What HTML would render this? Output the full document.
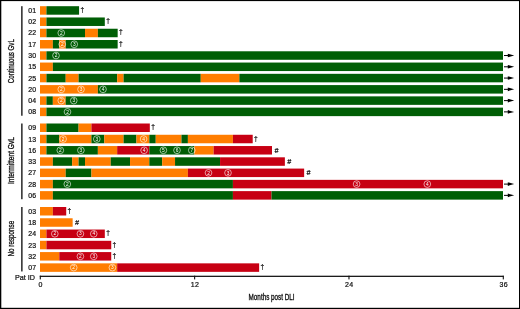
<!DOCTYPE html>
<html lang="en"><head><meta charset="utf-8"><title>DLI response chart</title>
<style>html,body{margin:0;padding:0;background:#fff}svg{display:block}text{font-family:"Liberation Sans",sans-serif;fill:#111;stroke:#111;stroke-width:0.22px}</style></head><body>
<svg width="520" height="309" viewBox="0 0 520 309">
<rect x="0" y="0" width="520" height="309" fill="#fff"/>
<rect x="0" y="0" width="520" height="1.1" fill="#000"/>
<rect x="0" y="0" width="1.3" height="309" fill="#000"/>
<rect x="519" y="0" width="1" height="309" fill="#000"/>
<rect x="0" y="307.8" width="520" height="1.2" fill="#000"/>
<rect x="21.2" y="6.20" width="1.35" height="109.53" fill="#111"/>
<text transform="translate(13.6 83.16) rotate(-90)" font-size="8.2" textLength="44" lengthAdjust="spacingAndGlyphs" style="stroke-width:0.32px">Continuous GvL</text>
<text x="28.3" y="12.95" font-size="7" textLength="7.7" lengthAdjust="spacingAndGlyphs">01</text>
<rect x="40.00" y="6.20" width="6.43" height="8.5" fill="#ff7d00"/>
<rect x="46.43" y="6.20" width="32.65" height="8.5" fill="#005e05"/>
<text x="82.28" y="11.95" font-size="6.6" text-anchor="middle">†</text>
<text x="28.3" y="24.22" font-size="7" textLength="7.7" lengthAdjust="spacingAndGlyphs">02</text>
<rect x="40.00" y="17.47" width="6.43" height="8.5" fill="#ff7d00"/>
<rect x="46.43" y="17.47" width="58.38" height="8.5" fill="#005e05"/>
<text x="108.01" y="23.22" font-size="6.6" text-anchor="middle">†</text>
<text x="28.3" y="35.49" font-size="7" textLength="7.7" lengthAdjust="spacingAndGlyphs">22</text>
<rect x="40.00" y="28.74" width="6.43" height="8.5" fill="#ff7d00"/>
<rect x="46.43" y="28.74" width="38.58" height="8.5" fill="#005e05"/>
<rect x="85.01" y="28.74" width="12.86" height="8.5" fill="#ff7d00"/>
<rect x="97.88" y="28.74" width="19.79" height="8.5" fill="#005e05"/>
<text x="120.87" y="34.49" font-size="6.6" text-anchor="middle">†</text>
<circle cx="61.25" cy="32.99" r="3.35" fill="none" stroke="#fff" stroke-width="0.6"/>
<text x="61.25" y="34.69" font-size="4.8" text-anchor="middle" style="fill:#fff;stroke:none">2</text>
<text x="28.3" y="46.76" font-size="7" textLength="7.7" lengthAdjust="spacingAndGlyphs">17</text>
<rect x="40.00" y="40.01" width="12.86" height="8.5" fill="#ff7d00"/>
<rect x="52.86" y="40.01" width="6.43" height="8.5" fill="#005e05"/>
<rect x="59.29" y="40.01" width="6.43" height="8.5" fill="#ff7d00"/>
<rect x="65.72" y="40.01" width="51.94" height="8.5" fill="#005e05"/>
<text x="120.87" y="45.76" font-size="6.6" text-anchor="middle">†</text>
<circle cx="62.25" cy="44.26" r="3.35" fill="none" stroke="#fff" stroke-width="0.6"/>
<text x="62.25" y="45.96" font-size="4.8" text-anchor="middle" style="fill:#fff;stroke:none">2</text>
<circle cx="74.25" cy="44.26" r="3.35" fill="none" stroke="#fff" stroke-width="0.6"/>
<text x="74.25" y="45.96" font-size="4.8" text-anchor="middle" style="fill:#fff;stroke:none">3</text>
<text x="28.3" y="58.03" font-size="7" textLength="7.7" lengthAdjust="spacingAndGlyphs">30</text>
<rect x="40.00" y="51.28" width="6.43" height="8.5" fill="#ff7d00"/>
<rect x="46.43" y="51.28" width="456.57" height="8.5" fill="#005e05"/>
<path d="M504 55.53H509" stroke="#000" stroke-width="1" fill="none"/><path d="M507.8 53.73L514.2 55.53L507.8 57.33Z" fill="#000"/>
<circle cx="56" cy="55.53" r="3.35" fill="none" stroke="#fff" stroke-width="0.6"/>
<text x="56" y="57.23" font-size="4.8" text-anchor="middle" style="fill:#fff;stroke:none">2</text>
<text x="28.3" y="69.30" font-size="7" textLength="7.7" lengthAdjust="spacingAndGlyphs">15</text>
<rect x="40.00" y="62.55" width="12.86" height="8.5" fill="#ff7d00"/>
<rect x="52.86" y="62.55" width="450.14" height="8.5" fill="#005e05"/>
<path d="M504 66.80H509" stroke="#000" stroke-width="1" fill="none"/><path d="M507.8 65.00L514.2 66.80L507.8 68.60Z" fill="#000"/>
<text x="28.3" y="80.57" font-size="7" textLength="7.7" lengthAdjust="spacingAndGlyphs">25</text>
<rect x="40.00" y="73.82" width="6.43" height="8.5" fill="#ff7d00"/>
<rect x="46.43" y="73.82" width="19.29" height="8.5" fill="#005e05"/>
<rect x="65.72" y="73.82" width="12.86" height="8.5" fill="#ff7d00"/>
<rect x="78.58" y="73.82" width="38.58" height="8.5" fill="#005e05"/>
<rect x="117.17" y="73.82" width="6.43" height="8.5" fill="#ff7d00"/>
<rect x="123.60" y="73.82" width="77.17" height="8.5" fill="#005e05"/>
<rect x="200.76" y="73.82" width="38.58" height="8.5" fill="#ff7d00"/>
<rect x="239.35" y="73.82" width="263.65" height="8.5" fill="#005e05"/>
<path d="M504 78.07H509" stroke="#000" stroke-width="1" fill="none"/><path d="M507.8 76.27L514.2 78.07L507.8 79.87Z" fill="#000"/>
<text x="28.3" y="91.84" font-size="7" textLength="7.7" lengthAdjust="spacingAndGlyphs">20</text>
<rect x="40.00" y="85.09" width="57.88" height="8.5" fill="#ff7d00"/>
<rect x="97.88" y="85.09" width="405.12" height="8.5" fill="#005e05"/>
<path d="M504 89.34H509" stroke="#000" stroke-width="1" fill="none"/><path d="M507.8 87.54L514.2 89.34L507.8 91.14Z" fill="#000"/>
<circle cx="61.25" cy="89.34" r="3.35" fill="none" stroke="#fff" stroke-width="0.6"/>
<text x="61.25" y="91.04" font-size="4.8" text-anchor="middle" style="fill:#fff;stroke:none">2</text>
<circle cx="81" cy="89.34" r="3.35" fill="none" stroke="#fff" stroke-width="0.6"/>
<text x="81" y="91.04" font-size="4.8" text-anchor="middle" style="fill:#fff;stroke:none">3</text>
<circle cx="103" cy="89.34" r="3.35" fill="none" stroke="#fff" stroke-width="0.6"/>
<text x="103" y="91.04" font-size="4.8" text-anchor="middle" style="fill:#fff;stroke:none">4</text>
<text x="28.3" y="103.11" font-size="7" textLength="7.7" lengthAdjust="spacingAndGlyphs">04</text>
<rect x="40.00" y="96.36" width="6.43" height="8.5" fill="#ff7d00"/>
<rect x="46.43" y="96.36" width="6.43" height="8.5" fill="#005e05"/>
<rect x="52.86" y="96.36" width="12.86" height="8.5" fill="#ff7d00"/>
<rect x="65.72" y="96.36" width="437.28" height="8.5" fill="#005e05"/>
<path d="M504 100.61H509" stroke="#000" stroke-width="1" fill="none"/><path d="M507.8 98.81L514.2 100.61L507.8 102.41Z" fill="#000"/>
<circle cx="61.25" cy="100.61" r="3.35" fill="none" stroke="#fff" stroke-width="0.6"/>
<text x="61.25" y="102.31" font-size="4.8" text-anchor="middle" style="fill:#fff;stroke:none">2</text>
<circle cx="73.75" cy="100.61" r="3.35" fill="none" stroke="#fff" stroke-width="0.6"/>
<text x="73.75" y="102.31" font-size="4.8" text-anchor="middle" style="fill:#fff;stroke:none">3</text>
<text x="28.3" y="114.38" font-size="7" textLength="7.7" lengthAdjust="spacingAndGlyphs">08</text>
<rect x="40.00" y="107.63" width="6.43" height="8.5" fill="#ff7d00"/>
<rect x="46.43" y="107.63" width="456.57" height="8.5" fill="#005e05"/>
<path d="M504 111.88H509" stroke="#000" stroke-width="1" fill="none"/><path d="M507.8 110.08L514.2 111.88L507.8 113.68Z" fill="#000"/>
<circle cx="67.5" cy="111.88" r="3.35" fill="none" stroke="#fff" stroke-width="0.6"/>
<text x="67.5" y="113.58" font-size="4.8" text-anchor="middle" style="fill:#fff;stroke:none">2</text>
<rect x="21.2" y="123.50" width="1.35" height="75.72" fill="#111"/>
<text transform="translate(13.6 184.06) rotate(-90)" font-size="8.2" textLength="47" lengthAdjust="spacingAndGlyphs" style="stroke-width:0.32px">Intermittent GvL</text>
<text x="28.3" y="130.25" font-size="7" textLength="7.7" lengthAdjust="spacingAndGlyphs">09</text>
<rect x="40.00" y="123.50" width="6.43" height="8.5" fill="#ff7d00"/>
<rect x="46.43" y="123.50" width="32.15" height="8.5" fill="#005e05"/>
<rect x="78.58" y="123.50" width="12.86" height="8.5" fill="#ff7d00"/>
<rect x="91.44" y="123.50" width="58.38" height="8.5" fill="#c70013"/>
<text x="153.02" y="129.25" font-size="6.6" text-anchor="middle">†</text>
<text x="28.3" y="141.52" font-size="7" textLength="7.7" lengthAdjust="spacingAndGlyphs">13</text>
<rect x="40.00" y="134.77" width="6.43" height="8.5" fill="#ff7d00"/>
<rect x="46.43" y="134.77" width="12.86" height="8.5" fill="#005e05"/>
<rect x="59.29" y="134.77" width="32.15" height="8.5" fill="#ff7d00"/>
<rect x="91.44" y="134.77" width="12.86" height="8.5" fill="#005e05"/>
<rect x="104.31" y="134.77" width="19.29" height="8.5" fill="#ff7d00"/>
<rect x="123.60" y="134.77" width="12.86" height="8.5" fill="#005e05"/>
<rect x="136.46" y="134.77" width="12.86" height="8.5" fill="#ff7d00"/>
<rect x="149.32" y="134.77" width="6.43" height="8.5" fill="#005e05"/>
<rect x="155.75" y="134.77" width="25.72" height="8.5" fill="#ff7d00"/>
<rect x="181.47" y="134.77" width="6.43" height="8.5" fill="#005e05"/>
<rect x="187.90" y="134.77" width="45.01" height="8.5" fill="#ff7d00"/>
<rect x="232.92" y="134.77" width="19.79" height="8.5" fill="#c70013"/>
<text x="255.91" y="140.52" font-size="6.6" text-anchor="middle">†</text>
<circle cx="63.1" cy="139.02" r="3.35" fill="none" stroke="#fff" stroke-width="0.6"/>
<text x="63.1" y="140.72" font-size="4.8" text-anchor="middle" style="fill:#fff;stroke:none">2</text>
<circle cx="96.8" cy="139.02" r="3.35" fill="none" stroke="#fff" stroke-width="0.6"/>
<text x="96.8" y="140.72" font-size="4.8" text-anchor="middle" style="fill:#fff;stroke:none">3</text>
<circle cx="143.6" cy="139.02" r="3.35" fill="none" stroke="#fff" stroke-width="0.6"/>
<text x="143.6" y="140.72" font-size="4.8" text-anchor="middle" style="fill:#fff;stroke:none">4</text>
<text x="28.3" y="152.79" font-size="7" textLength="7.7" lengthAdjust="spacingAndGlyphs">16</text>
<rect x="40.00" y="146.04" width="6.43" height="8.5" fill="#ff7d00"/>
<rect x="46.43" y="146.04" width="51.44" height="8.5" fill="#005e05"/>
<rect x="97.88" y="146.04" width="19.29" height="8.5" fill="#ff7d00"/>
<rect x="117.17" y="146.04" width="32.15" height="8.5" fill="#c70013"/>
<rect x="149.32" y="146.04" width="45.01" height="8.5" fill="#005e05"/>
<rect x="194.33" y="146.04" width="19.29" height="8.5" fill="#ff7d00"/>
<rect x="213.62" y="146.04" width="58.38" height="8.5" fill="#c70013"/>
<text x="276.40" y="152.69" font-size="7" text-anchor="middle" font-style="italic">#</text>
<circle cx="60.3" cy="150.29" r="3.35" fill="none" stroke="#fff" stroke-width="0.6"/>
<text x="60.3" y="151.99" font-size="4.8" text-anchor="middle" style="fill:#fff;stroke:none">2</text>
<circle cx="80.9" cy="150.29" r="3.35" fill="none" stroke="#fff" stroke-width="0.6"/>
<text x="80.9" y="151.99" font-size="4.8" text-anchor="middle" style="fill:#fff;stroke:none">3</text>
<circle cx="144.1" cy="150.29" r="3.35" fill="none" stroke="#fff" stroke-width="0.6"/>
<text x="144.1" y="151.99" font-size="4.8" text-anchor="middle" style="fill:#fff;stroke:none">4</text>
<circle cx="163.4" cy="150.29" r="3.35" fill="none" stroke="#fff" stroke-width="0.6"/>
<text x="163.4" y="151.99" font-size="4.8" text-anchor="middle" style="fill:#fff;stroke:none">5</text>
<circle cx="177" cy="150.29" r="3.35" fill="none" stroke="#fff" stroke-width="0.6"/>
<text x="177" y="151.99" font-size="4.8" text-anchor="middle" style="fill:#fff;stroke:none">6</text>
<circle cx="191.8" cy="150.29" r="3.35" fill="none" stroke="#fff" stroke-width="0.6"/>
<text x="191.8" y="151.99" font-size="4.8" text-anchor="middle" style="fill:#fff;stroke:none">7</text>
<text x="28.3" y="164.06" font-size="7" textLength="7.7" lengthAdjust="spacingAndGlyphs">33</text>
<rect x="40.00" y="157.31" width="12.86" height="8.5" fill="#ff7d00"/>
<rect x="52.86" y="157.31" width="19.29" height="8.5" fill="#005e05"/>
<rect x="72.15" y="157.31" width="6.43" height="8.5" fill="#ff7d00"/>
<rect x="78.58" y="157.31" width="6.43" height="8.5" fill="#005e05"/>
<rect x="85.01" y="157.31" width="25.72" height="8.5" fill="#ff7d00"/>
<rect x="110.74" y="157.31" width="19.29" height="8.5" fill="#005e05"/>
<rect x="130.03" y="157.31" width="19.29" height="8.5" fill="#ff7d00"/>
<rect x="149.32" y="157.31" width="12.86" height="8.5" fill="#005e05"/>
<rect x="162.18" y="157.31" width="12.86" height="8.5" fill="#ff7d00"/>
<rect x="175.04" y="157.31" width="45.01" height="8.5" fill="#005e05"/>
<rect x="220.06" y="157.31" width="64.81" height="8.5" fill="#c70013"/>
<text x="289.26" y="163.96" font-size="7" text-anchor="middle" font-style="italic">#</text>
<text x="28.3" y="175.33" font-size="7" textLength="7.7" lengthAdjust="spacingAndGlyphs">27</text>
<rect x="40.00" y="168.58" width="25.72" height="8.5" fill="#ff7d00"/>
<rect x="65.72" y="168.58" width="25.72" height="8.5" fill="#005e05"/>
<rect x="91.44" y="168.58" width="96.46" height="8.5" fill="#ff7d00"/>
<rect x="187.90" y="168.58" width="116.25" height="8.5" fill="#c70013"/>
<text x="308.55" y="175.23" font-size="7" text-anchor="middle" font-style="italic">#</text>
<circle cx="208.5" cy="172.83" r="3.35" fill="none" stroke="#fff" stroke-width="0.6"/>
<text x="208.5" y="174.53" font-size="4.8" text-anchor="middle" style="fill:#fff;stroke:none">2</text>
<circle cx="228" cy="172.83" r="3.35" fill="none" stroke="#fff" stroke-width="0.6"/>
<text x="228" y="174.53" font-size="4.8" text-anchor="middle" style="fill:#fff;stroke:none">3</text>
<text x="28.3" y="186.60" font-size="7" textLength="7.7" lengthAdjust="spacingAndGlyphs">28</text>
<rect x="40.00" y="179.85" width="12.86" height="8.5" fill="#ff7d00"/>
<rect x="52.86" y="179.85" width="180.06" height="8.5" fill="#005e05"/>
<rect x="232.92" y="179.85" width="270.08" height="8.5" fill="#c70013"/>
<path d="M504 184.10H509" stroke="#000" stroke-width="1" fill="none"/><path d="M507.8 182.30L514.2 184.10L507.8 185.90Z" fill="#000"/>
<circle cx="67.3" cy="184.10" r="3.35" fill="none" stroke="#fff" stroke-width="0.6"/>
<text x="67.3" y="185.80" font-size="4.8" text-anchor="middle" style="fill:#fff;stroke:none">2</text>
<circle cx="356.6" cy="184.10" r="3.35" fill="none" stroke="#fff" stroke-width="0.6"/>
<text x="356.6" y="185.80" font-size="4.8" text-anchor="middle" style="fill:#fff;stroke:none">3</text>
<circle cx="427.3" cy="184.10" r="3.35" fill="none" stroke="#fff" stroke-width="0.6"/>
<text x="427.3" y="185.80" font-size="4.8" text-anchor="middle" style="fill:#fff;stroke:none">4</text>
<text x="28.3" y="197.87" font-size="7" textLength="7.7" lengthAdjust="spacingAndGlyphs">06</text>
<rect x="40.00" y="191.12" width="12.86" height="8.5" fill="#ff7d00"/>
<rect x="52.86" y="191.12" width="180.06" height="8.5" fill="#005e05"/>
<rect x="232.92" y="191.12" width="38.58" height="8.5" fill="#c70013"/>
<rect x="271.50" y="191.12" width="231.50" height="8.5" fill="#005e05"/>
<path d="M504 195.37H509" stroke="#000" stroke-width="1" fill="none"/><path d="M507.8 193.57L514.2 195.37L507.8 197.17Z" fill="#000"/>
<rect x="21.2" y="207.00" width="1.35" height="64.45" fill="#111"/>
<text transform="translate(13.6 256.52) rotate(-90)" font-size="8.2" textLength="35.8" lengthAdjust="spacingAndGlyphs" style="stroke-width:0.32px">No response</text>
<text x="28.3" y="213.75" font-size="7" textLength="7.7" lengthAdjust="spacingAndGlyphs">03</text>
<rect x="40.00" y="207.00" width="12.86" height="8.5" fill="#ff7d00"/>
<rect x="52.86" y="207.00" width="13.36" height="8.5" fill="#c70013"/>
<text x="69.42" y="212.75" font-size="6.6" text-anchor="middle">†</text>
<text x="28.3" y="225.02" font-size="7" textLength="7.7" lengthAdjust="spacingAndGlyphs">18</text>
<rect x="40.00" y="218.27" width="32.65" height="8.5" fill="#ff7d00"/>
<text x="77.05" y="224.92" font-size="7" text-anchor="middle" font-style="italic">#</text>
<text x="28.3" y="236.29" font-size="7" textLength="7.7" lengthAdjust="spacingAndGlyphs">24</text>
<rect x="40.00" y="229.54" width="6.43" height="8.5" fill="#ff7d00"/>
<rect x="46.43" y="229.54" width="58.38" height="8.5" fill="#c70013"/>
<text x="108.01" y="235.29" font-size="6.6" text-anchor="middle">†</text>
<circle cx="54.8" cy="233.79" r="3.35" fill="none" stroke="#fff" stroke-width="0.6"/>
<text x="54.8" y="235.49" font-size="4.8" text-anchor="middle" style="fill:#fff;stroke:none">2</text>
<circle cx="80.4" cy="233.79" r="3.35" fill="none" stroke="#fff" stroke-width="0.6"/>
<text x="80.4" y="235.49" font-size="4.8" text-anchor="middle" style="fill:#fff;stroke:none">3</text>
<circle cx="93.75" cy="233.79" r="3.35" fill="none" stroke="#fff" stroke-width="0.6"/>
<text x="93.75" y="235.49" font-size="4.8" text-anchor="middle" style="fill:#fff;stroke:none">4</text>
<text x="28.3" y="247.56" font-size="7" textLength="7.7" lengthAdjust="spacingAndGlyphs">23</text>
<rect x="40.00" y="240.81" width="6.43" height="8.5" fill="#ff7d00"/>
<rect x="46.43" y="240.81" width="64.81" height="8.5" fill="#c70013"/>
<text x="114.44" y="246.56" font-size="6.6" text-anchor="middle">†</text>
<text x="28.3" y="258.83" font-size="7" textLength="7.7" lengthAdjust="spacingAndGlyphs">32</text>
<rect x="40.00" y="252.08" width="19.29" height="8.5" fill="#ff7d00"/>
<rect x="59.29" y="252.08" width="51.94" height="8.5" fill="#c70013"/>
<text x="114.44" y="257.83" font-size="6.6" text-anchor="middle">†</text>
<circle cx="80.4" cy="256.33" r="3.35" fill="none" stroke="#fff" stroke-width="0.6"/>
<text x="80.4" y="258.03" font-size="4.8" text-anchor="middle" style="fill:#fff;stroke:none">2</text>
<circle cx="93.75" cy="256.33" r="3.35" fill="none" stroke="#fff" stroke-width="0.6"/>
<text x="93.75" y="258.03" font-size="4.8" text-anchor="middle" style="fill:#fff;stroke:none">3</text>
<text x="28.3" y="270.10" font-size="7" textLength="7.7" lengthAdjust="spacingAndGlyphs">07</text>
<rect x="40.00" y="263.35" width="77.17" height="8.5" fill="#ff7d00"/>
<rect x="117.17" y="263.35" width="141.97" height="8.5" fill="#c70013"/>
<text x="262.34" y="269.10" font-size="6.6" text-anchor="middle">†</text>
<circle cx="73.7" cy="267.60" r="3.35" fill="none" stroke="#fff" stroke-width="0.6"/>
<text x="73.7" y="269.30" font-size="4.8" text-anchor="middle" style="fill:#fff;stroke:none">2</text>
<circle cx="112.4" cy="267.60" r="3.35" fill="none" stroke="#fff" stroke-width="0.6"/>
<text x="112.4" y="269.30" font-size="4.8" text-anchor="middle" style="fill:#fff;stroke:none">3</text>
<rect x="39.8" y="275.7" width="463.8" height="1.25" fill="#111"/>
<rect x="39.75" y="275.7" width="1.1" height="3.7" fill="#111"/>
<text x="40.40" y="287.2" font-size="7" text-anchor="middle">0</text>
<rect x="194.08" y="275.7" width="1.1" height="3.7" fill="#111"/>
<text x="190.73" y="287.2" font-size="7" textLength="8.2" lengthAdjust="spacing">12</text>
<rect x="348.42" y="275.7" width="1.1" height="3.7" fill="#111"/>
<text x="345.07" y="287.2" font-size="7" textLength="8.2" lengthAdjust="spacing">24</text>
<rect x="502.75" y="275.7" width="1.1" height="3.7" fill="#111"/>
<text x="499.40" y="287.2" font-size="7" textLength="8.2" lengthAdjust="spacing">36</text>
<text x="15" y="280.4" font-size="7.4" textLength="20" lengthAdjust="spacingAndGlyphs">Pat ID</text>
<text x="248.6" y="300.2" font-size="8.2" textLength="46" lengthAdjust="spacingAndGlyphs" style="stroke-width:0.32px">Months post DLI</text>
</svg></body></html>
